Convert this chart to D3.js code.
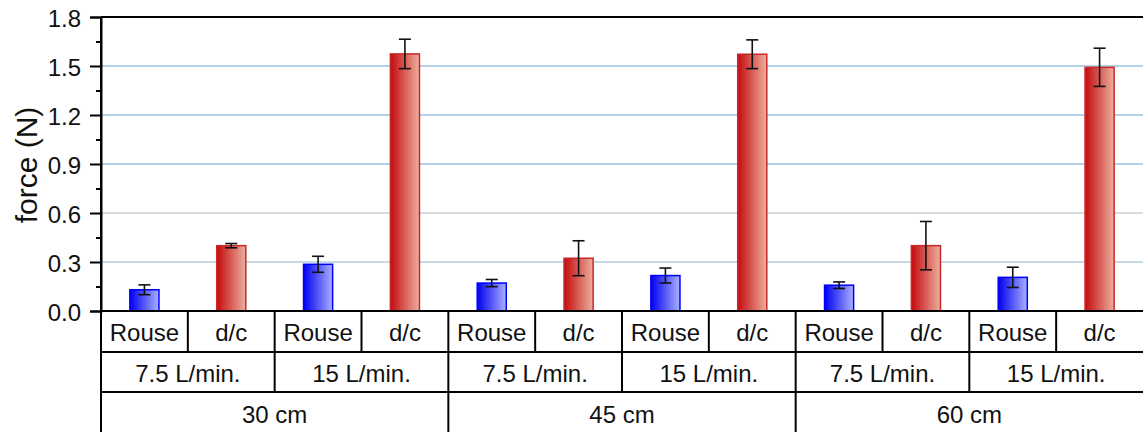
<!DOCTYPE html>
<html>
<head>
<meta charset="utf-8">
<script src="https://cdn.jsdelivr.net/npm/d3@7"></script>
<style>
  html, body { margin: 0; padding: 0; background: #fff; }
  svg { display: block; font-family: Arial, "Liberation Sans", sans-serif; }
</style>
</head>
<body>
<svg id="chart" width="1143" height="432"></svg>
<script>
// Force measurements: method / flow rate / distance
const methods   = ["Rouse", "d/c", "Rouse", "d/c", "Rouse", "d/c", "Rouse", "d/c", "Rouse", "d/c", "Rouse", "d/c"];
const flows     = ["7.5 L/min.", "15 L/min.", "7.5 L/min.", "15 L/min.", "7.5 L/min.", "15 L/min."];
const distances = ["30 cm", "45 cm", "60 cm"];
const forces    = [0.13, 0.40, 0.286, 1.574, 0.171, 0.323, 0.217, 1.572, 0.158, 0.40, 0.206, 1.492];
const errors    = [0.03, 0.013, 0.049, 0.09, 0.022, 0.107, 0.046, 0.088, 0.02, 0.148, 0.062, 0.117];
const yTicks    = [0, 0.3, 0.6, 0.9, 1.2, 1.5, 1.8];
const yMinor    = [0.15, 0.45, 0.75, 1.05, 1.35, 1.65];

const svg = d3.select("#chart");
const plotLeft = 101, plotRight = 1143, plotTop = 17, plotBase = 311;
const rowBottoms = [352, 392, 432];

const cols = d3.range(methods.length);
const x = d3.scaleBand().domain(cols).range([plotLeft, plotRight]).padding(0);
const y = d3.scaleLinear().domain([0, 1.8]).range([plotBase, plotTop]);
const barW = x.bandwidth() * 0.335;

// gradients
const defs = svg.append("defs");
function grad(id, c0, c1) {
  const g = defs.append("linearGradient").attr("id", id).attr("x1", 0).attr("x2", 1).attr("y1", 0).attr("y2", 0);
  g.append("stop").attr("offset", "0%").attr("stop-color", c0);
  g.append("stop").attr("offset", "100%").attr("stop-color", c1);
}
grad("gRouse", "#0000f0", "#aab0ff");
grad("gDC", "#c40a0e", "#ecb09e");

const fillFor = m => m === "Rouse" ? "url(#gRouse)" : "url(#gDC)";
const strokeFor = m => m === "Rouse" ? "#0000ff" : "#c8282a";

// grid lines (the lower two are drawn in a muted grey-blue)
const gridColor = d => d < 0.45 ? "#90b6cc" : d < 0.75 ? "#aebbc4" : "#6ca8d0";
svg.append("g").selectAll("line").data(yTicks.filter(t => t > 0 && t < 1.8)).join("line")
  .attr("x1", plotLeft).attr("x2", plotRight)
  .attr("y1", d => y(d)).attr("y2", d => y(d))
  .attr("stroke", gridColor).attr("stroke-width", 1.2);

// top frame
svg.append("line").attr("x1", plotLeft).attr("x2", plotRight).attr("y1", plotTop).attr("y2", plotTop)
  .attr("stroke", "#000").attr("stroke-width", 2);

// bars
svg.append("g").selectAll("rect").data(cols).join("rect")
  .attr("x", i => x(i) + x.bandwidth() / 2 - barW / 2)
  .attr("width", barW)
  .attr("y", i => y(forces[i]))
  .attr("height", i => plotBase - y(forces[i]))
  .attr("fill", i => fillFor(methods[i]))
  .attr("stroke", i => strokeFor(methods[i]))
  .attr("stroke-width", 1.5);

// error bars
const eb = svg.append("g").attr("stroke", "#111").attr("stroke-width", 1.6);
const capW = 12;
cols.forEach(i => {
  const cx = x(i) + x.bandwidth() / 2;
  const hi = y(forces[i] + errors[i]), lo = y(forces[i] - errors[i]);
  eb.append("line").attr("x1", cx).attr("x2", cx).attr("y1", hi).attr("y2", lo);
  eb.append("line").attr("x1", cx - capW / 2).attr("x2", cx + capW / 2).attr("y1", hi).attr("y2", hi);
  eb.append("line").attr("x1", cx - capW / 2).attr("x2", cx + capW / 2).attr("y1", lo).attr("y2", lo);
});

// y axis
const yAxis = d3.axisLeft(y).tickValues(yTicks).tickFormat(d3.format(".1f")).tickSize(11).tickPadding(9);
const ga = svg.append("g").attr("transform", `translate(${plotLeft},0)`).call(yAxis);
ga.select(".domain").attr("stroke", "#000").attr("stroke-width", 2);
ga.selectAll(".tick line").attr("stroke", "#000").attr("stroke-width", 2);
ga.selectAll(".tick text").attr("font-size", 24).attr("fill", "#111")
  .attr("font-family", "Arial, 'Liberation Sans', sans-serif").attr("dy", "0.38em");
const minorAxis = d3.axisLeft(y).tickValues(yMinor).tickFormat("").tickSize(5);
const gm = svg.append("g").attr("transform", `translate(${plotLeft},0)`).call(minorAxis);
gm.select(".domain").remove();
gm.selectAll(".tick line").attr("stroke", "#000").attr("stroke-width", 2);

// y label
svg.append("text").attr("transform", "translate(37,165) rotate(-90)")
  .attr("text-anchor", "middle").attr("font-size", 30).attr("fill", "#111").text("force (N)");

// category table under the axis
const tbl = svg.append("g");
const lineStyle = sel => sel.attr("stroke", "#000").attr("stroke-width", 2);
[plotBase, rowBottoms[0], rowBottoms[1]].forEach(yy => {
  tbl.append("line").attr("x1", plotLeft).attr("x2", plotRight).attr("y1", yy).attr("y2", yy).call(lineStyle);
});
tbl.append("line").attr("x1", plotLeft).attr("x2", plotLeft).attr("y1", plotTop).attr("y2", 432).call(lineStyle);

const rows = [
  { labels: methods, span: 1, y0: plotBase, y1: rowBottoms[0], baseline: 341 },
  { labels: flows, span: 2, y0: rowBottoms[0], y1: rowBottoms[1], baseline: 382 },
  { labels: distances, span: 4, y0: rowBottoms[1], y1: rowBottoms[2], baseline: 423 }
];
rows.forEach(r => {
  r.labels.forEach((lab, k) => {
    const x0 = x(k * r.span);
    const x1 = k * r.span + r.span < cols.length ? x((k + 1) * r.span) : plotRight;
    if (k > 0) tbl.append("line").attr("x1", x0).attr("x2", x0).attr("y1", r.y0).attr("y2", r.y1).call(lineStyle);
    tbl.append("text").attr("x", (x0 + x1) / 2).attr("y", r.baseline)
      .attr("text-anchor", "middle").attr("font-size", 24).attr("fill", "#111").text(lab);
  });
});
</script>
</body>
</html>
